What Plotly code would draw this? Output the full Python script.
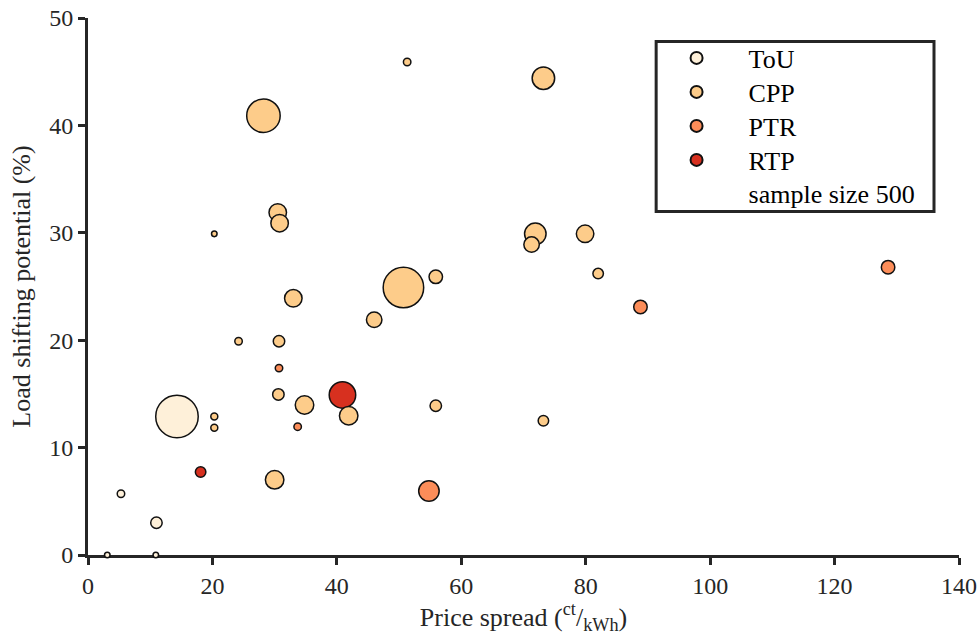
import plotly.graph_objects as go

# ---- data ----
tou_x = [3.1, 10.9, 5.3, 11.0, 14.3]
tou_y = [0.0, 0.0, 5.7, 3.0, 12.9]
tou_n = [17, 17, 31, 73, 1003]

cpp_x = [20.3, 20.3, 20.3, 24.2, 28.2, 30.5, 30.8, 30.7, 30.6, 30.0, 33.0, 34.8,
         41.9, 46.0, 50.7, 51.3, 55.9, 55.9, 73.2, 71.9, 71.3, 73.2, 79.9, 82.0]
cpp_y = [12.9, 11.85, 29.9, 19.9, 40.9, 31.9, 30.9, 19.9, 14.95, 7.0, 23.9, 13.97,
         12.97, 21.9, 24.9, 45.9, 25.9, 13.9, 44.4, 29.9, 28.9, 12.5, 29.9, 26.2]
cpp_n = [27, 27, 17, 31, 623, 170, 170, 73, 73, 190, 170, 190,
         190, 133, 911, 31, 101, 73, 281, 257, 133, 61, 170, 61]

ptr_x = [30.7, 33.7, 54.8, 88.8, 128.6]
ptr_y = [17.4, 11.95, 5.96, 23.1, 26.8]
ptr_n = [31, 31, 233, 101, 101]

rtp_x = [18.1, 40.9]
rtp_y = [7.73, 14.9]
rtp_n = [61, 390]

legend_ref_n = 500

x_ticks = [0, 20, 40, 60, 80, 100, 120, 140]
y_ticks = [0, 10, 20, 30, 40, 50]

FONT = "Liberation Serif"
AX = "#262626"
SIZEREF = 1.111

fig = go.Figure()

# legend entry rows (paper y of each row centre)
LEG_X = 0.639
leg_rows = {"legend": 0.9255, "legend2": 0.8622, "legend3": 0.7989,
            "legend4": 0.7356, "legend5": 0.6741}


def add(name, xs, ys, ns, color, legend_id):
    fig.add_trace(go.Scatter(
        x=xs, y=ys, mode="markers", name=name, legend=legend_id,
        cliponaxis=False, showlegend=True,
        marker=dict(size=ns, sizemode="area", sizeref=SIZEREF, color=color,
                    opacity=1, line=dict(color="#111111", width=1.5)),
    ))


add("RTP", rtp_x, rtp_y, rtp_n, "#d7301f", "legend4")
add("ToU", tou_x, tou_y, tou_n, "#fef0d9", "legend")
add("CPP", cpp_x, cpp_y, cpp_n, "#fdcc8a", "legend2")
add("PTR", ptr_x, ptr_y, ptr_n, "#fc8d59", "legend3")

fig.add_trace(go.Scatter(
    x=[None], y=[None], mode="markers", name=f"sample size {legend_ref_n}",
    legend="legend5", showlegend=True,
    marker=dict(size=[legend_ref_n], sizemode="area", sizeref=SIZEREF,
                color="rgba(0,0,0,0)", line=dict(width=0)),
))

axis_common = dict(
    showgrid=False, zeroline=False, showline=True, linecolor=AX, linewidth=3,
    ticks="outside", ticklen=7, tickwidth=3, tickcolor=AX, layer="below traces",
    automargin=False,
    tickfont=dict(family=FONT, size=24, color="#262626"),
)

fig.update_xaxes(range=[0, 140], tickvals=x_ticks, **axis_common,
                 title=dict(text="Price spread (<sup>ct</sup>/<sub>kWh</sub>)",
                            font=dict(family=FONT, size=26, color="#262626"), standoff=8))
fig.update_yaxes(range=[0, 50], tickvals=y_ticks, **axis_common,
                 title=dict(text="Load shifting potential (%)",
                            font=dict(family=FONT, size=26, color="#262626"), standoff=12))

# legend box
fig.add_shape(type="rect", xref="paper", yref="paper",
              x0=0.6523, x1=0.9713, y0=0.6397, y1=0.9562,
              line=dict(color=AX, width=3), fillcolor="white", layer="above")

leg_common = dict(x=LEG_X, xanchor="left", yanchor="middle", visible=True,
                  bgcolor="rgba(0,0,0,0)", borderwidth=0,
                  itemsizing="constant", itemwidth=94,
                  font=dict(family=FONT, size=26, color="black"))

fig.update_layout(
    width=979, height=637,
    margin=dict(l=88, r=20, t=18, b=82),
    plot_bgcolor="white", paper_bgcolor="white",
    showlegend=True,
    font=dict(family=FONT, size=24, color="black"),
    **{k: dict(y=v, **leg_common) for k, v in leg_rows.items()},
)

fig.write_html("out.html")
